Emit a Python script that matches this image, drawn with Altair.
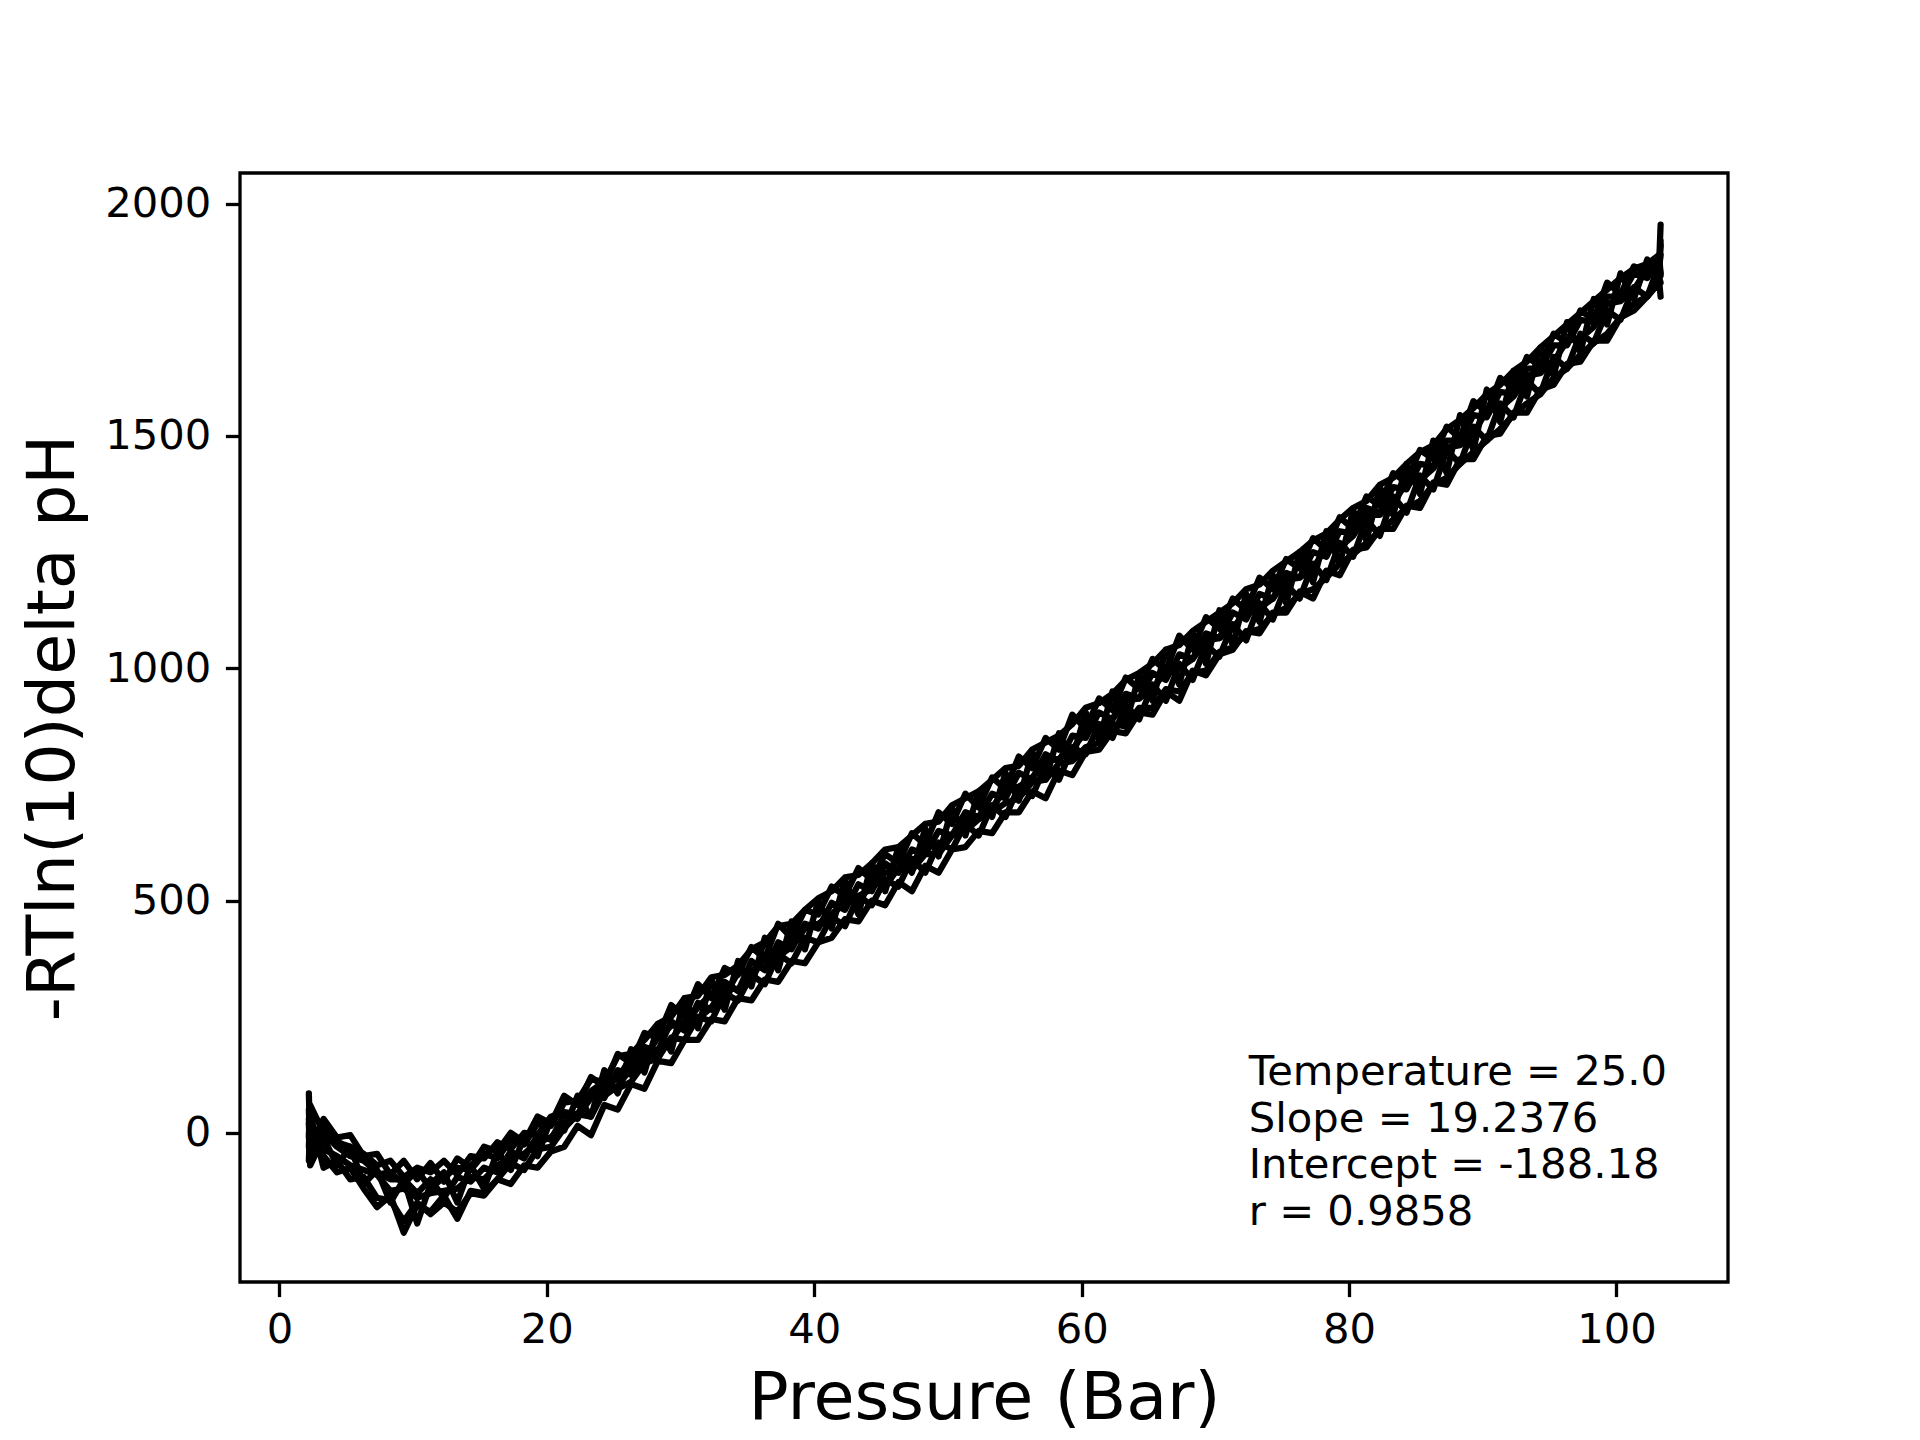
import altair as alt
import pandas as pd

# Pressure samples (Bar), shared by all runs
PRESSURE = [2.2, 2.3, 3.3, 4.3, 5.3, 6.3, 7.3, 8.3, 9.3, 10.3,
            11.3, 12.3, 13.3, 14.3, 15.3, 16.3, 17.3, 18.3, 19.3, 20.3,
            21.3, 22.3, 23.3, 24.3, 25.3, 26.3, 27.3, 28.3, 29.3, 30.3,
            31.3, 32.3, 33.3, 34.3, 35.3, 36.3, 37.3, 38.3, 39.3, 40.3,
            41.3, 42.3, 43.3, 44.3, 45.3, 46.3, 47.3, 48.3, 49.3, 50.3,
            51.3, 52.3, 53.3, 54.3, 55.3, 56.3, 57.3, 58.3, 59.3, 60.3,
            61.3, 62.3, 63.3, 64.3, 65.3, 66.3, 67.3, 68.3, 69.3, 70.3,
            71.3, 72.3, 73.3, 74.3, 75.3, 76.3, 77.3, 78.3, 79.3, 80.3,
            81.3, 82.3, 83.3, 84.3, 85.3, 86.3, 87.3, 88.3, 89.3, 90.3,
            91.3, 92.3, 93.3, 94.3, 95.3, 96.3, 97.3, 98.3, 99.3, 100.3,
            101.3, 102.3, 103.2, 103.3]

RUN_A = [85, -30, 30, -10, -5, -50, -45, -90, -60, -100,
         -65, -105, -55, -75, -30, -40, 0, -20, 35, 20,
         80, 60, 120, 100, 170, 150, 215, 205, 275, 250,
         320, 290, 355, 340, 400, 375, 450, 420, 480, 470,
         530, 510, 570, 545, 600, 580, 645, 620, 690, 665,
         730, 700, 765, 740, 810, 785, 850, 825, 900, 870,
         935, 910, 980, 955, 1020, 995, 1070, 1040, 1110, 1085,
         1150, 1125, 1195, 1170, 1235, 1215, 1280, 1255, 1325, 1300,
         1370, 1350, 1420, 1400, 1470, 1450, 1520, 1495, 1575, 1550,
         1625, 1600, 1670, 1650, 1720, 1700, 1770, 1750, 1830, 1805,
         1865, 1850, 1880, 1955]

RUN_B = [-60, 40, -75, -60, -100, -95, -140, -145, -190, -150,
         -175, -150, -170, -130, -135, -100, -110, -70, -75, -40,
         -30, 15, -5, 60, 50, 105, 95, 155, 150, 200,
         200, 245, 240, 290, 285, 330, 325, 370, 365, 410,
         420, 460, 455, 500, 490, 540, 520, 575, 560, 610,
         615, 650, 645, 690, 690, 735, 720, 780, 770, 820,
         825, 865, 860, 905, 900, 950, 930, 995, 985, 1030,
         1040, 1080, 1075, 1120, 1120, 1165, 1150, 1210, 1200, 1255,
         1260, 1300, 1300, 1350, 1345, 1400, 1395, 1450, 1450, 1500,
         1505, 1550, 1550, 1600, 1610, 1655, 1660, 1705, 1705, 1755,
         1770, 1800, 1830, 1800]

RUN_C = [20, -70, -10, -70, -30, -110, -80, -150, -100, -195,
         -110, -85, -150, -70, -120, -40, -80, -10, -50, 30,
         5, 80, 35, 135, 85, 180, 130, 230, 175, 290,
         225, 330, 265, 370, 315, 420, 350, 455, 395, 500,
         440, 545, 470, 580, 520, 615, 560, 655, 595, 700,
         640, 735, 680, 775, 715, 820, 760, 860, 805, 905,
         845, 950, 880, 985, 930, 1040, 965, 1075, 1010, 1125,
         1050, 1160, 1100, 1200, 1140, 1250, 1185, 1295, 1225, 1340,
         1275, 1390, 1330, 1440, 1375, 1490, 1420, 1545, 1470, 1600,
         1530, 1640, 1585, 1690, 1630, 1745, 1680, 1795, 1740, 1850,
         1795, 1880, 1840, 1920]

RUN_D = [50, -40, 10, -20, -30, -45, -70, -60, -95, -75,
         -85, -60, -90, -50, -55, -20, -35, 0, -5, 35,
         45, 40, 90, 110, 115, 165, 160, 205, 230, 235,
         270, 300, 295, 345, 345, 380, 395, 415, 445, 450,
         470, 500, 495, 540, 530, 570, 565, 600, 600, 640,
         650, 675, 690, 710, 720, 755, 760, 795, 800, 830,
         840, 880, 875, 915, 915, 955, 950, 990, 995, 1035,
         1045, 1075, 1085, 1115, 1130, 1160, 1170, 1195, 1225, 1245,
         1270, 1295, 1320, 1345, 1360, 1395, 1410, 1440, 1465, 1490,
         1515, 1545, 1570, 1590, 1625, 1645, 1675, 1700, 1720, 1755,
         1785, 1800, 1840, 1830]

RUN_E = [-10, 30, -50, -85, -75, -120, -160, -135, -215, -155,
         -170, -135, -185, -125, -130, -100, -65, -80, -35, -30,
         10, 40, 35, 90, 95, 110, 150, 160, 205, 200,
         250, 240, 300, 285, 340, 320, 385, 365, 420, 410,
         465, 445, 510, 490, 545, 530, 590, 560, 625, 610,
         665, 640, 705, 680, 745, 725, 790, 760, 830, 815,
         880, 850, 920, 890, 965, 930, 1010, 975, 1050, 1025,
         1095, 1060, 1140, 1105, 1180, 1150, 1225, 1190, 1270, 1240,
         1320, 1285, 1370, 1335, 1415, 1385, 1470, 1440, 1520, 1490,
         1570, 1540, 1620, 1590, 1670, 1645, 1720, 1700, 1770, 1750,
         1820, 1800, 1870, 1850]

RUN_F = [0, -55, -20, -15, -45, -50, -90, -85, -110, -80,
         -120, -95, -75, -80, -45, -55, -15, -25, 20, 15,
         65, 70, 115, 110, 165, 170, 200, 235, 250, 290,
         295, 335, 340, 360, 395, 410, 445, 450, 480, 505,
         520, 550, 555, 580, 610, 615, 640, 665, 670, 705,
         720, 735, 760, 785, 790, 825, 840, 855, 880, 915,
         925, 945, 975, 990, 1010, 1040, 1050, 1080, 1100, 1120,
         1140, 1170, 1180, 1210, 1230, 1250, 1275, 1290, 1320, 1345,
         1360, 1395, 1410, 1440, 1465, 1480, 1515, 1535, 1560, 1590,
         1610, 1640, 1660, 1690, 1715, 1740, 1765, 1790, 1815, 1840,
         1860, 1870, 1890, 1845]

RUN_G = [30, -50, -35, -50, -70, -80, -90, -125, -120, -140,
         -130, -125, -120, -95, -100, -70, -55, -45, -20, -10,
         20, 35, 75, 80, 100, 140, 150, 180, 200, 240,
         245, 270, 310, 310, 335, 375, 380, 400, 440, 445,
         465, 500, 510, 525, 560, 565, 580, 615, 620, 640,
         675, 680, 700, 740, 745, 765, 800, 805, 825, 865,
         870, 890, 930, 935, 955, 995, 1000, 1020, 1060, 1065,
         1085, 1125, 1130, 1150, 1190, 1195, 1215, 1260, 1260, 1285,
         1330, 1330, 1355, 1400, 1405, 1430, 1475, 1480, 1505, 1555,
         1560, 1585, 1630, 1635, 1660, 1705, 1710, 1735, 1785, 1790,
         1815, 1860, 1865, 1890]

RUN_H = [-30, 60, 0, -30, -50, -60, -85, -100, -100, -130,
         -100, -140, -95, -105, -75, -85, -40, -55, -5, -15,
         40, 30, 85, 75, 135, 125, 185, 175, 240, 220,
         280, 265, 325, 305, 370, 350, 410, 395, 450, 440,
         495, 480, 535, 520, 580, 560, 610, 600, 650, 640,
         690, 680, 730, 720, 775, 760, 815, 800, 855, 850,
         905, 890, 945, 935, 990, 975, 1030, 1020, 1075, 1065,
         1120, 1105, 1160, 1150, 1205, 1195, 1250, 1240, 1295, 1290,
         1345, 1335, 1390, 1385, 1440, 1435, 1490, 1490, 1545, 1540,
         1595, 1590, 1645, 1645, 1695, 1695, 1750, 1745, 1800, 1800,
         1850, 1840, 1880, 1910]

RUNS = [RUN_A, RUN_B, RUN_C, RUN_D, RUN_E, RUN_F, RUN_G, RUN_H]

X_TICKS = [0, 20, 40, 60, 80, 100]
Y_TICKS = [0, 500, 1000, 1500, 2000]

ANNOTATION = "Temperature = 25.0\nSlope = 19.2376\nIntercept = -188.18\nr = 0.9858"
ANN_X = 72.5
ANN_Y = 102

rows = []
for i, run in enumerate(RUNS):
    for p, v in zip(PRESSURE, run):
        rows.append({"pressure": p, "value": v, "run": i})
df = pd.DataFrame(rows)
ann_df = pd.DataFrame([{"pressure": ANN_X, "value": ANN_Y, "label": ANNOTATION}])

FONT = "DejaVu Sans"
xscale = alt.Scale(domain=[-2.95, 108.34], nice=False, zero=False)
yscale = alt.Scale(domain=[-321, 2066], nice=False, zero=False)

xaxis = alt.Axis(values=X_TICKS, title="Pressure (Bar)", grid=False, domain=False,
                 format="d",
                 tickSize=14.6, tickWidth=3.3, tickColor="black",
                 labelFont=FONT, labelFontSize=41.7, labelColor="black",
                 labelPadding=13, labelFlush=False, labelOverlap=False,
                 titleFont=FONT, titleFontSize=66.7, titleFontWeight="normal",
                 titleColor="black", titleBaseline="alphabetic", titleY=136.4)
yaxis = alt.Axis(values=Y_TICKS, title="-RTln(10)delta pH", grid=False, domain=False,
                 format="d",
                 tickSize=14.6, tickWidth=3.3, tickColor="black",
                 labelFont=FONT, labelFontSize=41.7, labelColor="black",
                 labelPadding=14.6, labelOverlap=False, labelFlush=False,
                 titleFont=FONT, titleFontSize=66.7, titleFontWeight="normal",
                 titleColor="black", titleBaseline="alphabetic", titleX=-167,
                 titleY=554.4, titleAngle=270, titleAlign="center")

lines = alt.Chart(df).mark_line(color="black", strokeWidth=6.25,
                                strokeCap="round", strokeJoin="round").encode(
    x=alt.X("pressure:Q", scale=xscale, axis=xaxis),
    y=alt.Y("value:Q", scale=yscale, axis=yaxis),
    detail="run:N",
)

text = alt.Chart(ann_df).mark_text(align="left", baseline="alphabetic", font=FONT,
                                   fontSize=41.7, lineHeight=46.4, lineBreak="\n",
                                   color="black").encode(
    x=alt.X("pressure:Q", scale=xscale, title="Pressure (Bar)"),
    y=alt.Y("value:Q", scale=yscale, title="-RTln(10)delta pH"),
    text="label:N",
)

chart = alt.layer(lines, text).properties(
    width=1488, height=1109,
    autosize=alt.AutoSizeParams(type="none"),
    padding={"left": 232, "top": 165, "right": 120, "bottom": 155},
    background="white",
).configure_view(stroke="black", strokeWidth=3.3)

chart.save("out.html", embed_options={"renderer": "svg", "actions": False})
